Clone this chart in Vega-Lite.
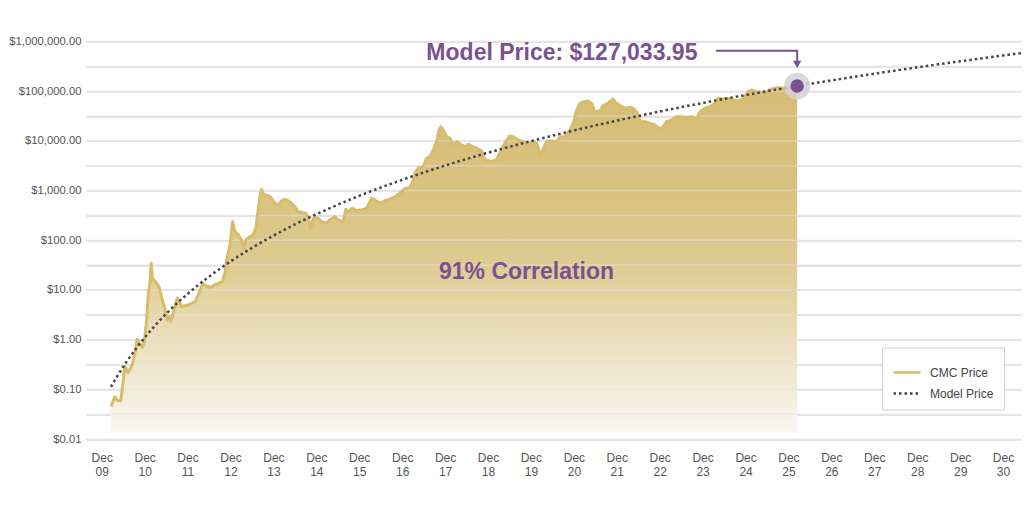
{
  "$schema": "https://vega.github.io/schema/vega-lite/v6.json",
  "width": 935,
  "height": 397.5,
  "autosize": {"type": "none"},
  "padding": {"left": 86, "top": 41.5, "right": 3, "bottom": 66},
  "background": "white",
  "config": {"view": {"stroke": null}, "font": "Liberation Sans"},
  "datasets": {
    "prices": [
      {"date": "2010-02-18", "price": 0.045, "series": "CMC Price"},
      {"date": "2010-03-22", "price": 0.071, "series": "CMC Price"},
      {"date": "2010-04-11", "price": 0.06, "series": "CMC Price"},
      {"date": "2010-05-12", "price": 0.059, "series": "CMC Price"},
      {"date": "2010-06-01", "price": 0.143, "series": "CMC Price"},
      {"date": "2010-06-15", "price": 0.29, "series": "CMC Price"},
      {"date": "2010-07-13", "price": 0.217, "series": "CMC Price"},
      {"date": "2010-08-17", "price": 0.31, "series": "CMC Price"},
      {"date": "2010-09-15", "price": 0.62, "series": "CMC Price"},
      {"date": "2010-09-28", "price": 1.02, "series": "CMC Price"},
      {"date": "2010-10-27", "price": 0.78, "series": "CMC Price"},
      {"date": "2010-11-11", "price": 0.7, "series": "CMC Price"},
      {"date": "2010-11-28", "price": 0.91, "series": "CMC Price"},
      {"date": "2010-12-18", "price": 2.49, "series": "CMC Price"},
      {"date": "2011-01-01", "price": 8.57, "series": "CMC Price"},
      {"date": "2011-01-15", "price": 13.6, "series": "CMC Price"},
      {"date": "2011-01-26", "price": 34.5, "series": "CMC Price"},
      {"date": "2011-02-05", "price": 17.2, "series": "CMC Price"},
      {"date": "2011-03-03", "price": 14.7, "series": "CMC Price"},
      {"date": "2011-04-03", "price": 11.6, "series": "CMC Price"},
      {"date": "2011-04-23", "price": 7.3, "series": "CMC Price"},
      {"date": "2011-05-21", "price": 4.3, "series": "CMC Price"},
      {"date": "2011-06-14", "price": 2.49, "series": "CMC Price"},
      {"date": "2011-06-27", "price": 2.9, "series": "CMC Price"},
      {"date": "2011-07-11", "price": 2.3, "series": "CMC Price"},
      {"date": "2011-08-01", "price": 3.4, "series": "CMC Price"},
      {"date": "2011-09-04", "price": 6.8, "series": "CMC Price"},
      {"date": "2011-09-27", "price": 5.4, "series": "CMC Price"},
      {"date": "2011-10-11", "price": 4.6, "series": "CMC Price"},
      {"date": "2011-12-07", "price": 5.0, "series": "CMC Price"},
      {"date": "2012-02-03", "price": 5.8, "series": "CMC Price"},
      {"date": "2012-03-01", "price": 7.9, "series": "CMC Price"},
      {"date": "2012-04-08", "price": 13.6, "series": "CMC Price"},
      {"date": "2012-05-05", "price": 12.0, "series": "CMC Price"},
      {"date": "2012-06-17", "price": 11.3, "series": "CMC Price"},
      {"date": "2012-07-20", "price": 12.6, "series": "CMC Price"},
      {"date": "2012-08-18", "price": 13.6, "series": "CMC Price"},
      {"date": "2012-09-22", "price": 14.7, "series": "CMC Price"},
      {"date": "2012-10-14", "price": 21.7, "series": "CMC Price"},
      {"date": "2012-10-29", "price": 40, "series": "CMC Price"},
      {"date": "2012-11-26", "price": 80, "series": "CMC Price"},
      {"date": "2012-12-19", "price": 237, "series": "CMC Price"},
      {"date": "2013-01-08", "price": 149, "series": "CMC Price"},
      {"date": "2013-02-06", "price": 128, "series": "CMC Price"},
      {"date": "2013-03-04", "price": 101, "series": "CMC Price"},
      {"date": "2013-03-24", "price": 69, "series": "CMC Price"},
      {"date": "2013-04-10", "price": 101, "series": "CMC Price"},
      {"date": "2013-05-14", "price": 118, "series": "CMC Price"},
      {"date": "2013-06-12", "price": 128, "series": "CMC Price"},
      {"date": "2013-07-04", "price": 174, "series": "CMC Price"},
      {"date": "2013-07-24", "price": 407, "series": "CMC Price"},
      {"date": "2013-08-08", "price": 754, "series": "CMC Price"},
      {"date": "2013-08-22", "price": 1062, "series": "CMC Price"},
      {"date": "2013-09-05", "price": 855, "series": "CMC Price"},
      {"date": "2013-10-04", "price": 815, "series": "CMC Price"},
      {"date": "2013-11-02", "price": 754, "series": "CMC Price"},
      {"date": "2013-11-25", "price": 647, "series": "CMC Price"},
      {"date": "2013-12-14", "price": 555, "series": "CMC Price"},
      {"date": "2014-01-11", "price": 513, "series": "CMC Price"},
      {"date": "2014-02-10", "price": 627, "series": "CMC Price"},
      {"date": "2014-03-08", "price": 668, "series": "CMC Price"},
      {"date": "2014-04-05", "price": 627, "series": "CMC Price"},
      {"date": "2014-05-04", "price": 555, "series": "CMC Price"},
      {"date": "2014-06-01", "price": 475, "series": "CMC Price"},
      {"date": "2014-06-29", "price": 376, "series": "CMC Price"},
      {"date": "2014-08-06", "price": 359, "series": "CMC Price"},
      {"date": "2014-09-04", "price": 349, "series": "CMC Price"},
      {"date": "2014-09-23", "price": 277, "series": "CMC Price"},
      {"date": "2014-10-13", "price": 174, "series": "CMC Price"},
      {"date": "2014-10-30", "price": 256, "series": "CMC Price"},
      {"date": "2014-11-19", "price": 299, "series": "CMC Price"},
      {"date": "2014-12-17", "price": 277, "series": "CMC Price"},
      {"date": "2015-01-15", "price": 237, "series": "CMC Price"},
      {"date": "2015-02-21", "price": 220, "series": "CMC Price"},
      {"date": "2015-03-25", "price": 256, "series": "CMC Price"},
      {"date": "2015-05-07", "price": 299, "series": "CMC Price"},
      {"date": "2015-06-05", "price": 256, "series": "CMC Price"},
      {"date": "2015-07-17", "price": 237, "series": "CMC Price"},
      {"date": "2015-08-09", "price": 421, "series": "CMC Price"},
      {"date": "2015-08-29", "price": 376, "series": "CMC Price"},
      {"date": "2015-10-05", "price": 441, "series": "CMC Price"},
      {"date": "2015-11-09", "price": 394, "series": "CMC Price"},
      {"date": "2015-12-21", "price": 407, "series": "CMC Price"},
      {"date": "2016-02-03", "price": 441, "series": "CMC Price"},
      {"date": "2016-03-15", "price": 700, "series": "CMC Price"},
      {"date": "2016-04-13", "price": 647, "series": "CMC Price"},
      {"date": "2016-05-25", "price": 555, "series": "CMC Price"},
      {"date": "2016-07-07", "price": 627, "series": "CMC Price"},
      {"date": "2016-08-19", "price": 668, "series": "CMC Price"},
      {"date": "2016-09-30", "price": 754, "series": "CMC Price"},
      {"date": "2016-11-12", "price": 883, "series": "CMC Price"},
      {"date": "2016-12-24", "price": 1100, "series": "CMC Price"},
      {"date": "2017-02-06", "price": 1150, "series": "CMC Price"},
      {"date": "2017-03-04", "price": 1634, "series": "CMC Price"},
      {"date": "2017-03-18", "price": 2228, "series": "CMC Price"},
      {"date": "2017-04-16", "price": 2812, "series": "CMC Price"},
      {"date": "2017-05-28", "price": 3027, "series": "CMC Price"},
      {"date": "2017-06-26", "price": 4467, "series": "CMC Price"},
      {"date": "2017-07-24", "price": 4810, "series": "CMC Price"},
      {"date": "2017-08-22", "price": 6561, "series": "CMC Price"},
      {"date": "2017-09-20", "price": 9640, "series": "CMC Price"},
      {"date": "2017-10-10", "price": 16560, "series": "CMC Price"},
      {"date": "2017-10-26", "price": 19300, "series": "CMC Price"},
      {"date": "2017-11-15", "price": 16560, "series": "CMC Price"},
      {"date": "2017-12-14", "price": 12160, "series": "CMC Price"},
      {"date": "2018-01-11", "price": 11270, "series": "CMC Price"},
      {"date": "2018-02-09", "price": 8280, "series": "CMC Price"},
      {"date": "2018-03-13", "price": 9640, "series": "CMC Price"},
      {"date": "2018-04-20", "price": 8280, "series": "CMC Price"},
      {"date": "2018-05-26", "price": 7650, "series": "CMC Price"},
      {"date": "2018-06-15", "price": 8550, "series": "CMC Price"},
      {"date": "2018-07-14", "price": 7890, "series": "CMC Price"},
      {"date": "2018-08-26", "price": 7100, "series": "CMC Price"},
      {"date": "2018-10-07", "price": 6350, "series": "CMC Price"},
      {"date": "2018-11-05", "price": 4130, "series": "CMC Price"},
      {"date": "2018-12-03", "price": 4000, "series": "CMC Price"},
      {"date": "2019-01-01", "price": 3820, "series": "CMC Price"},
      {"date": "2019-02-13", "price": 4265, "series": "CMC Price"},
      {"date": "2019-03-11", "price": 5640, "series": "CMC Price"},
      {"date": "2019-04-23", "price": 8950, "series": "CMC Price"},
      {"date": "2019-06-05", "price": 12560, "series": "CMC Price"},
      {"date": "2019-07-03", "price": 12160, "series": "CMC Price"},
      {"date": "2019-08-15", "price": 10420, "series": "CMC Price"},
      {"date": "2019-09-27", "price": 9640, "series": "CMC Price"},
      {"date": "2019-11-08", "price": 8280, "series": "CMC Price"},
      {"date": "2019-12-15", "price": 9640, "series": "CMC Price"},
      {"date": "2020-01-19", "price": 8950, "series": "CMC Price"},
      {"date": "2020-02-22", "price": 5200, "series": "CMC Price"},
      {"date": "2020-03-14", "price": 6780, "series": "CMC Price"},
      {"date": "2020-04-13", "price": 9640, "series": "CMC Price"},
      {"date": "2020-05-25", "price": 9950, "series": "CMC Price"},
      {"date": "2020-07-07", "price": 9640, "series": "CMC Price"},
      {"date": "2020-08-04", "price": 12160, "series": "CMC Price"},
      {"date": "2020-09-16", "price": 12160, "series": "CMC Price"},
      {"date": "2020-10-28", "price": 16560, "series": "CMC Price"},
      {"date": "2020-11-26", "price": 22580, "series": "CMC Price"},
      {"date": "2020-12-19", "price": 38700, "series": "CMC Price"},
      {"date": "2021-01-22", "price": 57100, "series": "CMC Price"},
      {"date": "2021-02-20", "price": 61500, "series": "CMC Price"},
      {"date": "2021-04-01", "price": 63500, "series": "CMC Price"},
      {"date": "2021-04-30", "price": 57100, "series": "CMC Price"},
      {"date": "2021-05-28", "price": 38700, "series": "CMC Price"},
      {"date": "2021-07-10", "price": 40000, "series": "CMC Price"},
      {"date": "2021-08-07", "price": 51100, "series": "CMC Price"},
      {"date": "2021-09-19", "price": 57100, "series": "CMC Price"},
      {"date": "2021-10-26", "price": 69700, "series": "CMC Price"},
      {"date": "2021-11-30", "price": 57100, "series": "CMC Price"},
      {"date": "2022-01-12", "price": 48750, "series": "CMC Price"},
      {"date": "2022-02-18", "price": 45300, "series": "CMC Price"},
      {"date": "2022-03-21", "price": 47400, "series": "CMC Price"},
      {"date": "2022-04-19", "price": 45300, "series": "CMC Price"},
      {"date": "2022-05-18", "price": 38700, "series": "CMC Price"},
      {"date": "2022-06-21", "price": 24300, "series": "CMC Price"},
      {"date": "2022-07-27", "price": 24300, "series": "CMC Price"},
      {"date": "2022-09-09", "price": 22580, "series": "CMC Price"},
      {"date": "2022-10-21", "price": 20890, "series": "CMC Price"},
      {"date": "2022-12-03", "price": 17340, "series": "CMC Price"},
      {"date": "2023-01-01", "price": 19300, "series": "CMC Price"},
      {"date": "2023-01-29", "price": 24300, "series": "CMC Price"},
      {"date": "2023-03-11", "price": 26360, "series": "CMC Price"},
      {"date": "2023-04-23", "price": 30700, "series": "CMC Price"},
      {"date": "2023-06-05", "price": 30700, "series": "CMC Price"},
      {"date": "2023-07-17", "price": 29300, "series": "CMC Price"},
      {"date": "2023-08-29", "price": 30700, "series": "CMC Price"},
      {"date": "2023-10-11", "price": 27600, "series": "CMC Price"},
      {"date": "2023-11-09", "price": 38700, "series": "CMC Price"},
      {"date": "2023-12-21", "price": 45300, "series": "CMC Price"},
      {"date": "2024-02-02", "price": 48750, "series": "CMC Price"},
      {"date": "2024-03-15", "price": 57100, "series": "CMC Price"},
      {"date": "2024-04-12", "price": 71900, "series": "CMC Price"},
      {"date": "2024-05-24", "price": 69700, "series": "CMC Price"},
      {"date": "2024-07-06", "price": 71900, "series": "CMC Price"},
      {"date": "2024-08-18", "price": 66500, "series": "CMC Price"},
      {"date": "2024-09-30", "price": 63500, "series": "CMC Price"},
      {"date": "2024-11-12", "price": 71900, "series": "CMC Price"},
      {"date": "2024-12-24", "price": 97700, "series": "CMC Price"},
      {"date": "2025-01-22", "price": 105700, "series": "CMC Price"},
      {"date": "2025-02-28", "price": 97700, "series": "CMC Price"},
      {"date": "2025-04-02", "price": 95000, "series": "CMC Price"},
      {"date": "2025-05-14", "price": 90800, "series": "CMC Price"},
      {"date": "2025-06-20", "price": 105700, "series": "CMC Price"},
      {"date": "2025-07-29", "price": 114300, "series": "CMC Price"},
      {"date": "2025-09-05", "price": 117800, "series": "CMC Price"},
      {"date": "2025-10-17", "price": 114300, "series": "CMC Price"},
      {"date": "2025-11-29", "price": 123300, "series": "CMC Price"},
      {"date": "2026-01-11", "price": 114300, "series": "CMC Price"},
      {"date": "2026-02-13", "price": 112000, "series": "CMC Price"},
      {"date": "2010-02-18", "price": 0.112, "series": "Model Price"},
      {"date": "2010-04-01", "price": 0.166, "series": "Model Price"},
      {"date": "2010-07-01", "price": 0.36, "series": "Model Price"},
      {"date": "2010-10-01", "price": 0.721, "series": "Model Price"},
      {"date": "2011-01-01", "price": 1.34, "series": "Model Price"},
      {"date": "2011-06-01", "price": 3.29, "series": "Model Price"},
      {"date": "2011-12-01", "price": 8.3, "series": "Model Price"},
      {"date": "2012-06-01", "price": 18.5, "series": "Model Price"},
      {"date": "2012-12-01", "price": 37.4, "series": "Model Price"},
      {"date": "2013-06-01", "price": 70.1, "series": "Model Price"},
      {"date": "2013-12-01", "price": 123.7, "series": "Model Price"},
      {"date": "2014-06-01", "price": 207.7, "series": "Model Price"},
      {"date": "2014-12-01", "price": 334, "series": "Model Price"},
      {"date": "2015-12-01", "price": 783, "series": "Model Price"},
      {"date": "2016-12-01", "price": 1646, "series": "Model Price"},
      {"date": "2017-12-01", "price": 3184, "series": "Model Price"},
      {"date": "2018-12-01", "price": 5763, "series": "Model Price"},
      {"date": "2019-12-01", "price": 9876, "series": "Model Price"},
      {"date": "2020-12-01", "price": 16190, "series": "Model Price"},
      {"date": "2021-12-01", "price": 25530, "series": "Model Price"},
      {"date": "2022-12-01", "price": 38960, "series": "Model Price"},
      {"date": "2023-12-01", "price": 57810, "series": "Model Price"},
      {"date": "2024-12-01", "price": 83630, "series": "Model Price"},
      {"date": "2025-12-01", "price": 118500, "series": "Model Price"},
      {"date": "2026-02-13", "price": 127033.95, "series": "Model Price"},
      {"date": "2026-12-01", "price": 164500, "series": "Model Price"},
      {"date": "2027-12-01", "price": 224600, "series": "Model Price"},
      {"date": "2028-12-01", "price": 301800, "series": "Model Price"},
      {"date": "2029-12-01", "price": 399900, "series": "Model Price"},
      {"date": "2030-12-01", "price": 523200, "series": "Model Price"},
      {"date": "2031-05-03", "price": 583000, "series": "Model Price"}
    ],
    "gridvals": [
      {"price": 0.01}, {"price": 0.0316228}, {"price": 0.1}, {"price": 0.316228},
      {"price": 1}, {"price": 3.16228}, {"price": 10}, {"price": 31.6228},
      {"price": 100}, {"price": 316.228}, {"price": 1000}, {"price": 3162.28},
      {"price": 10000}, {"price": 31622.8}, {"price": 100000}, {"price": 316228},
      {"price": 1000000}
    ]
  },
  "layer": [
    {
      "data": {"name": "prices"},
      "transform": [{"filter": "datum.series == 'CMC Price'"}],
      "mark": {
        "type": "area",
        "color": {
          "gradient": "linear",
          "x1": 0, "y1": 0, "x2": 0, "y2": 1,
          "stops": [
            {"offset": 0, "color": "#d6bd76"},
            {"offset": 0.3, "color": "#d9c280"},
            {"offset": 0.52, "color": "#dfcb92"},
            {"offset": 0.66, "color": "#e7d9ae"},
            {"offset": 0.81, "color": "#efe6cc"},
            {"offset": 0.95, "color": "#f6f2e7"},
            {"offset": 1, "color": "#f9f7f2"}
          ]
        }
      },
      "encoding": {
        "x": {
          "field": "date",
          "type": "temporal",
          "scale": {
            "type": "utc",
            "domain": [
              {"year": 2009, "month": 7, "date": 20, "utc": true},
              {"year": 2031, "month": 5, "date": 3, "utc": true}
            ],
            "nice": false
          },
          "axis": {
            "title": null,
            "grid": false,
            "ticks": false,
            "domain": false,
            "labelFontSize": 12,
            "labelColor": "#555555",
            "labelPadding": 13,
            "labelLineHeight": 14,
            "labelOverlap": false,
            "labelFlush": false,
            "values": [
              {"year": 2009, "month": 12, "date": 1, "utc": true},
              {"year": 2010, "month": 12, "date": 1, "utc": true},
              {"year": 2011, "month": 12, "date": 1, "utc": true},
              {"year": 2012, "month": 12, "date": 1, "utc": true},
              {"year": 2013, "month": 12, "date": 1, "utc": true},
              {"year": 2014, "month": 12, "date": 1, "utc": true},
              {"year": 2015, "month": 12, "date": 1, "utc": true},
              {"year": 2016, "month": 12, "date": 1, "utc": true},
              {"year": 2017, "month": 12, "date": 1, "utc": true},
              {"year": 2018, "month": 12, "date": 1, "utc": true},
              {"year": 2019, "month": 12, "date": 1, "utc": true},
              {"year": 2020, "month": 12, "date": 1, "utc": true},
              {"year": 2021, "month": 12, "date": 1, "utc": true},
              {"year": 2022, "month": 12, "date": 1, "utc": true},
              {"year": 2023, "month": 12, "date": 1, "utc": true},
              {"year": 2024, "month": 12, "date": 1, "utc": true},
              {"year": 2025, "month": 12, "date": 1, "utc": true},
              {"year": 2026, "month": 12, "date": 1, "utc": true},
              {"year": 2027, "month": 12, "date": 1, "utc": true},
              {"year": 2028, "month": 12, "date": 1, "utc": true},
              {"year": 2029, "month": 12, "date": 1, "utc": true},
              {"year": 2030, "month": 12, "date": 1, "utc": true}
            ],
            "labelExpr": "[utcFormat(datum.value, '%b'), utcFormat(datum.value, '%y')]"
          }
        },
        "y": {
          "field": "price",
          "type": "quantitative",
          "scale": {"type": "log", "domain": [0.01, 1000000], "nice": false, "zero": false},
          "axis": {
            "title": null,
            "zindex": 0,
            "grid": true,
            "gridColor": "#dcdce2",
            "gridWidth": 1.5,
            "ticks": false,
            "domain": false,
            "labelFontSize": 11.3,
            "labelColor": "#555555",
            "labelPadding": 5,
            "values": [0.01, 0.0316228, 0.1, 0.316228, 1, 3.16228, 10, 31.6228, 100, 316.228, 1000, 3162.28, 10000, 31622.8, 100000, 316228, 1000000],
            "labelExpr": "abs(log(datum.value)/LN10 - round(log(datum.value)/LN10)) < 0.01 ? format(datum.value, '$,.2f') : ''"
          }
        },
        "y2": {"datum": 0.0133}
      }
    },
    {
      "data": {"name": "gridvals"},
      "mark": {"type": "rule", "color": "#e4e4ea", "strokeWidth": 1.5, "opacity": 0.5},
      "encoding": {"y": {"field": "price", "type": "quantitative"}}
    },
    {
      "data": {"name": "prices"},
      "transform": [{"filter": "datum.series == 'CMC Price'"}],
      "mark": {"type": "line", "strokeWidth": 3, "strokeJoin": "round"},
      "encoding": {
        "x": {"field": "date", "type": "temporal"},
        "y": {"field": "price", "type": "quantitative"},
        "color": {
          "field": "series", "type": "nominal",
          "scale": {"domain": ["CMC Price", "Model Price"], "range": ["#d8bc6a", "#444444"]},
          "legend": {
            "orient": "none", "legendX": 796, "legendY": 306,
            "title": null,
            "strokeColor": "#cfcfd6", "fillColor": "white",
            "padding": 10,
            "symbolType": "stroke", "symbolSize": 729, "symbolStrokeWidth": 2.5,
            "labelFontSize": 12, "labelColor": "#444444",
            "labelOffset": 8, "rowPadding": 0
          }
        },
        "strokeDash": {
          "field": "series", "type": "nominal",
          "scale": {"domain": ["CMC Price", "Model Price"], "range": [[1, 0], [2.5, 3]]},
          "legend": {
            "orient": "none", "legendX": 796, "legendY": 306,
            "title": null,
            "strokeColor": "#cfcfd6", "fillColor": "white",
            "padding": 10,
            "symbolType": "stroke", "symbolSize": 729, "symbolStrokeWidth": 2.5,
            "labelFontSize": 12, "labelColor": "#444444",
            "labelOffset": 8, "rowPadding": 0
          }
        }
      }
    },
    {
      "data": {"name": "prices"},
      "transform": [{"filter": "datum.series == 'Model Price'"}],
      "mark": {"type": "line", "strokeWidth": 2.5, "interpolate": "monotone"},
      "encoding": {
        "x": {"field": "date", "type": "temporal"},
        "y": {"field": "price", "type": "quantitative"},
        "color": {"field": "series", "type": "nominal"},
        "strokeDash": {"field": "series", "type": "nominal"}
      }
    },
    {
      "data": {"values": [{"date": "2026-02-13", "price": 127033.95}]},
      "mark": {"type": "point", "filled": true, "color": "#d2d2d6", "opacity": 0.85, "size": 700},
      "encoding": {
        "x": {"field": "date", "type": "temporal"},
        "y": {"field": "price", "type": "quantitative"}
      }
    },
    {
      "data": {"values": [{"date": "2026-02-13", "price": 127033.95}]},
      "mark": {"type": "point", "filled": true, "color": "#7b5194", "opacity": 1, "size": 180},
      "encoding": {
        "x": {"field": "date", "type": "temporal"},
        "y": {"field": "price", "type": "quantitative"}
      }
    },
    {
      "data": {"values": [
        {"date": "2024-03-24", "price": 653000, "i": 1},
        {"date": "2026-02-13", "price": 653000, "i": 2},
        {"date": "2026-02-13", "price": 386800, "i": 3}
      ]},
      "mark": {"type": "line", "color": "#7b5194", "strokeWidth": 2},
      "encoding": {
        "x": {"field": "date", "type": "temporal"},
        "y": {"field": "price", "type": "quantitative"},
        "order": {"field": "i", "type": "quantitative"}
      }
    },
    {
      "data": {"values": [{"date": "2026-02-13", "price": 344600}]},
      "mark": {"type": "point", "shape": "triangle-down", "filled": true, "color": "#7b5194", "opacity": 1, "size": 70},
      "encoding": {
        "x": {"field": "date", "type": "temporal"},
        "y": {"field": "price", "type": "quantitative"}
      }
    },
    {
      "data": {"values": [{"date": "2020-08-21", "price": 424800, "label": "Model Price: $127,033.95"}]},
      "mark": {"type": "text", "font": "Liberation Sans", "fontWeight": "bold", "fontSize": 23, "color": "#7b5194", "align": "center", "baseline": "alphabetic"},
      "encoding": {
        "x": {"field": "date", "type": "temporal"},
        "y": {"field": "price", "type": "quantitative"},
        "text": {"field": "label"}
      }
    },
    {
      "data": {"values": [{"date": "2019-10-25", "price": 16.42, "label": "91% Correlation"}]},
      "mark": {"type": "text", "font": "Liberation Sans", "fontWeight": "bold", "fontSize": 23, "color": "#7b5194", "align": "center", "baseline": "alphabetic"},
      "encoding": {
        "x": {"field": "date", "type": "temporal"},
        "y": {"field": "price", "type": "quantitative"},
        "text": {"field": "label"}
      }
    }
  ]
}
